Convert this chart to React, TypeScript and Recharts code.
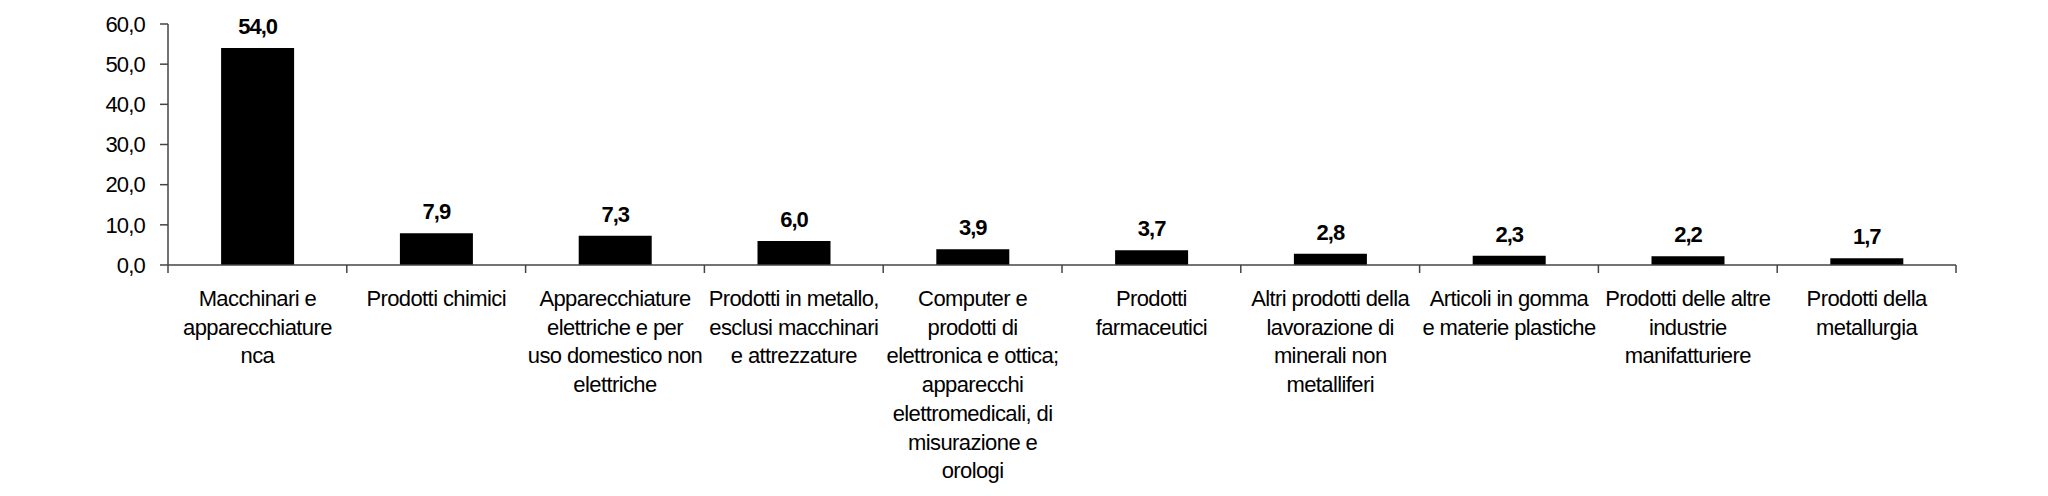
import React from 'react';
import { BarChart, Bar, XAxis, YAxis, LabelList } from 'recharts';

// categories, one label line per entry, as wrapped in the original
const categories = [
  ['Macchinari e', 'apparecchiature', 'nca'],
  ['Prodotti chimici'],
  ['Apparecchiature', 'elettriche e per', 'uso domestico non', 'elettriche'],
  ['Prodotti in metallo,', 'esclusi macchinari', 'e attrezzature'],
  ['Computer e', 'prodotti di', 'elettronica e ottica;', 'apparecchi', 'elettromedicali, di', 'misurazione e', 'orologi'],
  ['Prodotti', 'farmaceutici'],
  ['Altri prodotti della', 'lavorazione di', 'minerali non', 'metalliferi'],
  ['Articoli in gomma', 'e materie plastiche'],
  ['Prodotti delle altre', 'industrie', 'manifatturiere'],
  ['Prodotti della', 'metallurgia'],
];
const values = [54.0, 7.9, 7.3, 6.0, 3.9, 3.7, 2.8, 2.3, 2.2, 1.7];
const yTicks = [0, 10, 20, 30, 40, 50, 60];

const data = categories.map((lines, i) => ({ name: lines.join(' '), value: values[i] }));

const FONT = '"Liberation Sans", Arial, sans-serif';
const AXIS = '#444';
const W = 2032;
const H = 488;
const M = { top: 16, right: 84, bottom: 11, left: 100 };
const Y_W = 60;
const BAND = (W - M.left - M.right - Y_W) / categories.length;
const fmt = (v: number) => v.toFixed(1).replace('.', ',');

// category label plus the tick marks that sit between categories
const CategoryTick = (props: any) => {
  const { x, y, index } = props;
  const lines = categories[index] || [];
  const half = BAND / 2;
  return (
    <g>
      {index === 0 && <line x1={x - half} x2={x - half} y1={y} y2={y + 8} stroke={AXIS} strokeWidth={1.5} />}
      <line x1={x + half} x2={x + half} y1={y} y2={y + 8} stroke={AXIS} strokeWidth={1.5} />
      <text x={x} y={y} textAnchor="middle" fontFamily={FONT} fontSize={22} letterSpacing={-0.6} fill="#000">
        {lines.map((l, i) => (
          <tspan key={i} x={x} dy={i === 0 ? 41 : 28.7}>{l}</tspan>
        ))}
      </text>
    </g>
  );
};

export default function App() {
  return (
    <div style={{ width: W, height: H, background: '#fff' }}>
      <BarChart width={W} height={H} data={data} margin={M} barCategoryGap="29.7%">
        <XAxis
          dataKey="name"
          interval={0}
          tickLine={false}
          tickSize={0}
          tickMargin={0}
          axisLine={{ stroke: AXIS, strokeWidth: 1.5 }}
          tick={<CategoryTick />}
          height={220}
        />
        <YAxis
          domain={[0, 60]}
          ticks={yTicks}
          tickFormatter={fmt}
          width={Y_W}
          tickSize={8}
          tickMargin={15}
          axisLine={{ stroke: AXIS, strokeWidth: 1.5 }}
          tickLine={{ stroke: AXIS, strokeWidth: 1.5 }}
          tick={{ fill: '#000', fontSize: 22, fontFamily: FONT, letterSpacing: -0.8 }}
        />
        <Bar dataKey="value" fill="#000" isAnimationActive={false}>
          <LabelList
            dataKey="value"
            position="top"
            offset={14}
            formatter={(v: any) => fmt(Number(v))}
            style={{ fill: '#000', fontSize: 22, fontWeight: 'bold', fontFamily: FONT, letterSpacing: -1 }}
          />
        </Bar>
      </BarChart>
    </div>
  );
}
